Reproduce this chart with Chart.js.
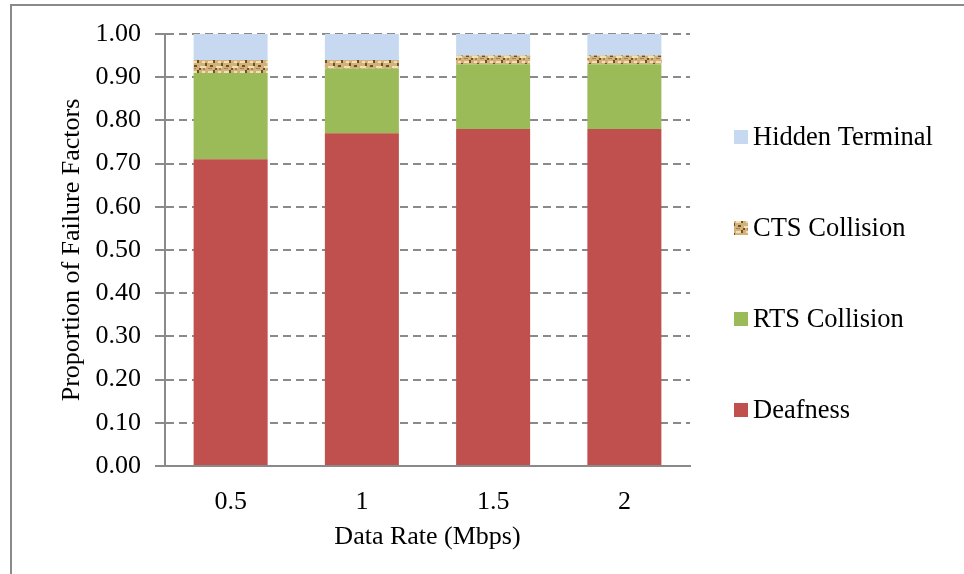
<!DOCTYPE html>
<html>
<head>
<meta charset="utf-8">
<script src="https://cdn.jsdelivr.net/npm/chart.js@4"></script>
<style>
  html, body { margin: 0; padding: 0; background: #fff; overflow: hidden; }
  #wrap { position: relative; width: 964px; height: 574px; }
  #frame { position: absolute; left: 10px; top: 4px; width: 1000px; height: 700px;
           border: 2px solid #8a8a8a; box-sizing: border-box; pointer-events: none; }
</style>
</head>
<body>
<div id="wrap">
  <canvas id="myChart" width="964" height="574"></canvas>
  <div id="frame"></div>
</div>
<script>
  'use strict'

  // values (proportions, stack sums to 1)
  const dataRates = ['0.5', '1', '1.5', '2']
  const deafness = [0.71, 0.77, 0.78, 0.78]
  const rtsCollision = [0.20, 0.15, 0.15, 0.15]
  const ctsCollision = [0.03, 0.02, 0.02, 0.02]
  const hiddenTerminal = [0.06, 0.06, 0.05, 0.05]

  const serif = '"Liberation Serif", "Times New Roman", serif'

  // tan texture used for the CTS bars
  function ctsPattern() {
    const c = document.createElement('canvas')
    c.width = 16
    c.height = 10
    const g = c.getContext('2d')
    g.fillStyle = '#d2b27a'
    g.fillRect(0, 0, 16, 10)
    g.fillStyle = '#f1e0b5'
    g.fillRect(0, 1, 5, 2)
    g.fillRect(8, 6, 6, 2)
    g.fillRect(10, 1, 3, 2)
    g.fillStyle = '#6e5026'
    g.fillRect(5, 0, 2, 3)
    g.fillRect(2, 5, 3, 2)
    g.fillRect(13, 3, 2, 3)
    g.fillRect(7, 8, 2, 2)
    g.fillStyle = '#a6844f'
    g.fillRect(0, 8, 4, 1)
    g.fillRect(11, 8, 2, 2)
    return g.createPattern(c, 'repeat')
  }

  // legend drawn on the right, top item = last dataset
  const sideLegend = {
    id: 'sideLegend',
    afterDraw(chart) {
      const ctx = chart.ctx
      const area = chart.chartArea
      const sets = chart.data.datasets
      ctx.save()
      ctx.font = '26.5px ' + serif
      ctx.textBaseline = 'middle'
      for (let k = 0; k < sets.length; k++) {
        const ds = sets[sets.length - 1 - k]
        const y = area.top + 103 + k * 91
        const x = area.right + 44
        ctx.fillStyle = ds.backgroundColor
        ctx.fillRect(x, y - 7, 14, 14)
        ctx.fillStyle = '#000'
        ctx.fillText(ds.label, x + 19, y + 1)
      }
      ctx.restore()
    }
  }

  const ctx = document.getElementById('myChart')
  const myChart = new Chart(ctx, {
    type: 'bar',
    data: {
      labels: dataRates,
      datasets: [
        { label: 'Deafness', data: deafness, backgroundColor: '#c0504d' },
        { label: 'RTS Collision', data: rtsCollision, backgroundColor: '#9bbb59' },
        { label: 'CTS Collision', data: ctsCollision, backgroundColor: ctsPattern() },
        { label: 'Hidden Terminal', data: hiddenTerminal, backgroundColor: '#c6d9f1' }
      ]
    },
    options: {
      responsive: false,
      animation: false,
      layout: {
        padding: { left: 53, top: 34, right: 274, bottom: 17 }
      },
      datasets: {
        bar: { barPercentage: 0.564, categoryPercentage: 1 }
      },
      scales: {
        x: {
          stacked: true,
          grid: { display: false, drawTicks: false },
          border: { display: true, color: '#8a8a8a', width: 2 },
          ticks: { color: '#000', padding: 21, font: { family: serif, size: 26 } },
          title: {
            display: true,
            text: 'Data Rate (Mbps)',
            color: '#000',
            font: { family: serif, size: 26 }
          },
          afterFit(scale) { scale.height = 91 }
        },
        y: {
          stacked: true,
          min: 0,
          max: 1,
          grid: {
            color: '#8a8a8a',
            lineWidth: 2,
            tickLength: 10,
            tickColor: '#8a8a8a',
            tickWidth: 2,
            tickBorderDash: []
          },
          border: { display: true, color: '#8a8a8a', width: 2, dash: [8, 5] },
          ticks: {
            stepSize: 0.1,
            color: '#000',
            padding: 14,
            font: { family: serif, size: 26 },
            callback: v => v.toFixed(2)
          },
          title: {
            display: true,
            text: 'Proportion of Failure Factors',
            color: '#000',
            font: { family: serif, size: 26 }
          },
          afterFit(scale) { scale.width = 112 }
        }
      },
      plugins: {
        legend: { display: false },
        tooltip: { enabled: false }
      }
    },
    plugins: [sideLegend]
  })
</script>
</body>
</html>
